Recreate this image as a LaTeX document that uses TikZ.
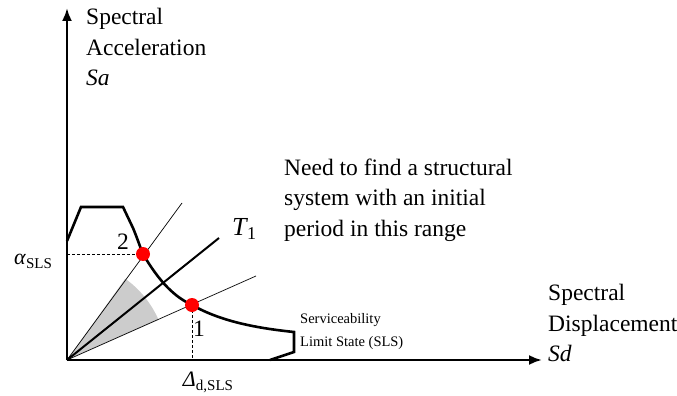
\documentclass[tikz,border=0pt]{standalone}
\usepackage{fontspec}
\setmainfont{Liberation Serif}
\usetikzlibrary{arrows.meta}
\begin{document}
\begin{tikzpicture}[x=1pt,y=-1pt,
  axis/.style={line width=2.4pt,-{Latex[length=13pt,width=10pt]}},
  ray/.style={line width=0.7pt},
  mainray/.style={line width=2pt},
  spec/.style={line width=2.6pt,line join=miter},
  guide/.style={densely dashed,line width=0.8pt},
  pt/.style={circle,fill=red,inner sep=0pt,minimum size=14pt},
  lbl/.style={font=\fontsize{23.5}{30.5}\selectfont,inner sep=0pt,anchor=west,align=left},
  small/.style={font=\fontsize{14.5}{23}\selectfont,inner sep=0pt,anchor=west,align=left}]
\useasboundingbox (0,0) rectangle (677,396);
\coordinate (O) at (67,360);
\coordinate (ytop) at (67,8);
\coordinate (xend) at (542,360);
\coordinate (r2) at (182,203);
\coordinate (r1) at (256,276);
\coordinate (rT) at (219,238);
% shaded sector
\fill[gray!40] (O) -- ++(-23.7:100) arc[start angle=-23.7,end angle=-54.4,radius=100] -- cycle;
% rays
\draw[ray] (O) -- (r2);
\draw[ray] (O) -- (r1);
\draw[mainray] (O) -- (rT);
% spectrum
\draw[spec] (67,241) -- (81,207) -- (123,207) -- (133,228)
  .. controls (138,240) and (140,247) .. (143,254)
  .. controls (160,283) and (175,297) .. (192,305)
  .. controls (215,318) and (245,327) .. (294,332)
  -- (294,352) -- (270,360);
% guides
\coordinate (p2) at (143,254);
\coordinate (p1) at (192,305);
\coordinate (ya) at (67,254);
\coordinate (xd) at (192,360);
\draw[guide] (ya) -- (p2);
\draw[guide] (p1) -- (xd);
% axes
\draw[axis] (O) -- (ytop);
\draw[axis] (O) -- (xend);
\node[pt] (P2) at (p2) {};
\node[pt] (P1) at (p1) {};
% labels
\node[lbl] (ylab) at (86,47) {Spectral\\Acceleration\\\textit{Sa}};
\node[lbl] (xlab) at (548,323) {Spectral\\Displacement\\\textit{Sd}};
\node[lbl] (note) at (284,200) {Need to find a structural\\system with an initial\\period in this range};
\node[small] (sls) at (300,332) {Serviceability\\Limit State (SLS)};
\node[lbl,anchor=center] (n2) at (123,242) {2};
\node[lbl,anchor=center] (n1) at (199,329) {1};
\node[anchor=center,inner sep=0pt] (T1) at (244,229) {\fontsize{26}{30}\selectfont\textit{T}\kern-1pt\raisebox{-4pt}{\fontsize{18}{20}\selectfont 1}};
\node[anchor=center,inner sep=0pt] (al) at (33,261) {\fontsize{22}{26}\selectfont\textit{α}\raisebox{-4pt}{\fontsize{15}{18}\selectfont SLS}};
\node[anchor=center,inner sep=0pt] (dl) at (208,382) {\fontsize{22}{26}\selectfont\textit{Δ}\raisebox{-4pt}{\fontsize{15}{18}\selectfont d,SLS}};
\end{tikzpicture}
\end{document}
